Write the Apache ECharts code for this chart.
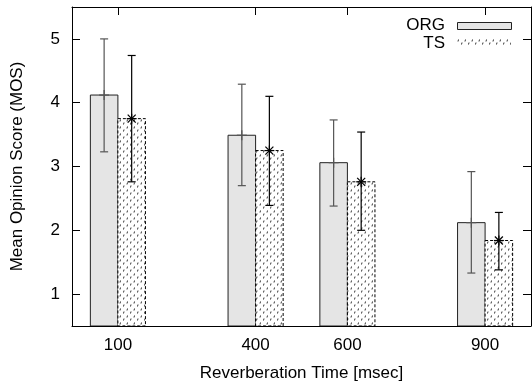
<!DOCTYPE html>
<html><head><meta charset="utf-8">
<script src="https://cdn.jsdelivr.net/npm/echarts@6/dist/echarts.min.js"></script>
<style>html,body{margin:0;padding:0;background:#fff}#c{width:532px;height:387px}</style>
</head><body><div id="c"></div>
<script>
const categories = [100, 400, 600, 900];
const orgMean = [4.12, 3.49, 3.06, 2.12];
const orgHigh = [5.00, 4.29, 3.73, 2.92];
const orgLow  = [3.23, 2.70, 2.38, 1.33];
const tsMean  = [3.75, 3.25, 2.76, 1.84];
const tsHigh  = [4.74, 4.10, 3.54, 2.28];
const tsLow   = [2.76, 2.39, 2.00, 1.38];
const yTicks  = [1, 2, 3, 4, 5];
const seriesNames = ['ORG', 'TS'];

const FONT = 'Liberation Sans, Arial, Helvetica, sans-serif';
const BAR_W = 60; // in x data units
const BASE = 0.5;

// dotted pattern for TS
const pc = document.createElement('canvas');
pc.width = 7; pc.height = 7;
const g = pc.getContext('2d');
g.fillStyle = '#fff'; g.fillRect(0, 0, 7, 7);
g.strokeStyle = '#333'; g.lineWidth = 1;
g.beginPath();
g.moveTo(1.5, 0.5); g.lineTo(1, 2.5);
g.moveTo(5, 3.5); g.lineTo(4.5, 5.5);
g.stroke();

const chart = echarts.init(document.getElementById('c'), null, {renderer: 'canvas'});

function makeRender(kind) {
  return function (params, api) {
    const x = api.value(0), m = api.value(1), lo = api.value(2), hi = api.value(3);
    const x0 = kind === 'ORG' ? x - BAR_W : x;
    const x1 = kind === 'ORG' ? x : x + BAR_W;
    const pTL = api.coord([x0, m]);
    const pBR = api.coord([x1, BASE]);
    const cx = (pTL[0] + pBR[0]) / 2;
    const pHi = api.coord([x, hi]);
    const pLo = api.coord([x, lo]);
    const pM = api.coord([x, m]);
    const ecol = kind === 'ORG' ? '#555' : '#000';
    const children = [];
    if (kind === 'ORG') {
      children.push({type: 'rect', shape: {x: pTL[0], y: pTL[1], width: pBR[0] - pTL[0], height: pBR[1] - pTL[1]},
        style: {fill: '#e5e5e5', stroke: '#222', lineWidth: 1}});
    } else {
      children.push({type: 'rect', shape: {x: pTL[0], y: pTL[1], width: pBR[0] - pTL[0], height: pBR[1] - pTL[1]},
        style: {fill: {image: pc, repeat: 'repeat'}, stroke: '#000', lineWidth: 1, lineDash: [3, 2]}});
    }
    children.push({type: 'line', shape: {x1: cx, y1: pHi[1], x2: cx, y2: pLo[1]}, style: {stroke: ecol, lineWidth: 1.2}});
    children.push({type: 'line', shape: {x1: cx - 4, y1: pHi[1], x2: cx + 4, y2: pHi[1]}, style: {stroke: ecol, lineWidth: 1.2}});
    children.push({type: 'line', shape: {x1: cx - 4, y1: pLo[1], x2: cx + 4, y2: pLo[1]}, style: {stroke: ecol, lineWidth: 1.2}});
    const s = 5;
    children.push({type: 'line', shape: {x1: cx - s, y1: pM[1], x2: cx + s, y2: pM[1]}, style: {stroke: ecol, lineWidth: 1.2}});
    children.push({type: 'line', shape: {x1: cx, y1: pM[1] - s, x2: cx, y2: pM[1] + s}, style: {stroke: ecol, lineWidth: 1.2}});
    if (kind === 'TS') {
      children.push({type: 'line', shape: {x1: cx - 4, y1: pM[1] - 4, x2: cx + 4, y2: pM[1] + 4}, style: {stroke: ecol, lineWidth: 1.2}});
      children.push({type: 'line', shape: {x1: cx - 4, y1: pM[1] + 4, x2: cx + 4, y2: pM[1] - 4}, style: {stroke: ecol, lineWidth: 1.2}});
    }
    return {type: 'group', children};
  };
}

const orgData = categories.map((c, i) => [c, orgMean[i], orgLow[i], orgHigh[i]]);
const tsData = categories.map((c, i) => [c, tsMean[i], tsLow[i], tsHigh[i]]);

const axisLine = {show: true, onZero: false, lineStyle: {color: '#000', width: 1}};

chart.setOption({
  animation: false,
  grid: {left: 72, right: 1, top: 7, bottom: 58, containLabel: false},
  xAxis: [{
    type: 'value', min: 0, max: 1000, position: 'bottom',
    name: 'Reverberation Time [msec]', nameLocation: 'middle', nameGap: 39,
    nameTextStyle: {fontFamily: FONT, fontSize: 17, color: '#000'},
    axisLine: axisLine,
    axisTick: {show: true, inside: true, length: 8, customValues: categories, lineStyle: {color: '#000'}},
    axisLabel: {customValues: categories, fontFamily: FONT, fontSize: 17, color: '#000', margin: 11},
    splitLine: {show: false}
  }, {
    type: 'value', min: 0, max: 1000, position: 'top',
    axisLine: axisLine,
    axisTick: {show: true, inside: true, length: 8, customValues: categories, lineStyle: {color: '#000'}},
    axisLabel: {show: false},
    splitLine: {show: false}
  }],
  yAxis: [{
    type: 'value', min: 0.5, max: 5.5, position: 'left',
    name: 'Mean Opinion Score (MOS)', nameLocation: 'middle', nameGap: 46, nameRotate: 90,
    nameTextStyle: {fontFamily: FONT, fontSize: 17, color: '#000'},
    axisLine: axisLine,
    axisTick: {show: true, inside: true, length: 8, customValues: yTicks, lineStyle: {color: '#000'}},
    axisLabel: {customValues: yTicks, fontFamily: FONT, fontSize: 17, color: '#000', margin: 12},
    splitLine: {show: false}
  }, {
    type: 'value', min: 0.5, max: 5.5, position: 'right',
    axisLine: axisLine,
    axisTick: {show: true, inside: true, length: 8, customValues: yTicks, lineStyle: {color: '#000'}},
    axisLabel: {show: false},
    splitLine: {show: false}
  }],
  graphic: [
    {type: 'text', right: 532 - 445, top: 17, style: {text: seriesNames[0], font: '17px ' + FONT, fill: '#000'}},
    {type: 'rect', left: 457, top: 22, shape: {width: 54, height: 7}, style: {fill: '#e5e5e5', stroke: '#222', lineWidth: 1}},
    {type: 'text', right: 532 - 445, top: 35, style: {text: seriesNames[1], font: '17px ' + FONT, fill: '#000'}},
    {type: 'rect', left: 457, top: 39, shape: {width: 54, height: 7}, style: {fill: {image: pc, repeat: 'repeat'}, stroke: null}}
  ],
  series: [
    {type: 'custom', name: 'ORG', renderItem: makeRender('ORG'), data: orgData, xAxisIndex: 0, yAxisIndex: 0, clip: true, z: 3},
    {type: 'custom', name: 'TS', renderItem: makeRender('TS'), data: tsData, xAxisIndex: 0, yAxisIndex: 0, clip: true, z: 3}
  ]
});
</script>
</body></html>
